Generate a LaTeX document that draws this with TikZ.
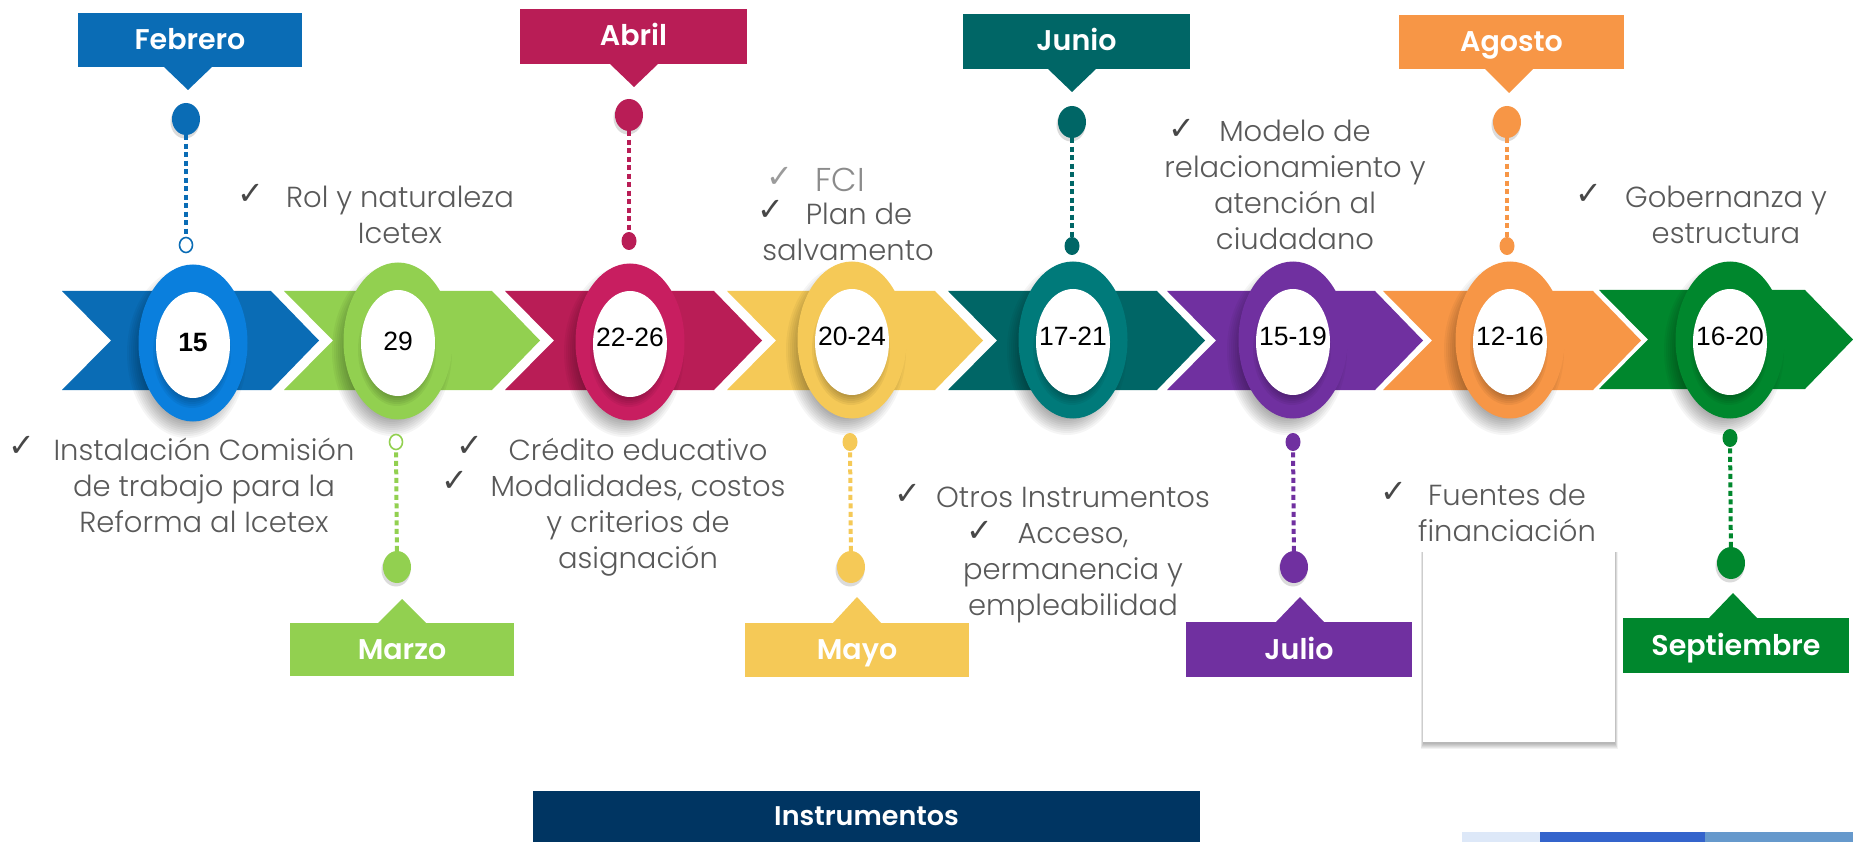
\documentclass[tikz,border=0pt]{standalone}
\usepackage{fontspec}
\setmainfont{Poppins}[UprightFont=* Light,BoldFont=* SemiBold]
\newfontfamily\numfont{Liberation Sans}
\newfontfamily\chkfont{DejaVu Sans}
\usetikzlibrary{shapes.geometric}
\definecolor{cBlue}{HTML}{0A6CB5}\definecolor{cBlueB}{HTML}{0A7FDD}
\definecolor{cGreen}{HTML}{92D050}
\definecolor{cMag}{HTML}{B91D56}\definecolor{cMagB}{HTML}{C81E60}
\definecolor{cYel}{HTML}{F5C957}
\definecolor{cTeal}{HTML}{006666}\definecolor{cTealB}{HTML}{007A7A}
\definecolor{cPur}{HTML}{7030A0}
\definecolor{cOra}{HTML}{F79646}
\definecolor{cDG}{HTML}{00872D}
\definecolor{cNavy}{HTML}{003562}
\definecolor{cText}{HTML}{595959}
\definecolor{cBarA}{HTML}{DDE8F8}\definecolor{cBarB}{HTML}{3464CC}\definecolor{cBarC}{HTML}{6699CC}
\tikzset{
 x=1pt,y=-1pt,
 stagering/.style={ellipse,inner sep=0pt,minimum width=109pt,minimum height=157pt},
 stagecore/.style={ellipse,inner sep=0pt,fill=white,minimum width=74pt,minimum height=106pt},
 stagenum/.style={inner sep=0pt,text=black,font=\numfont\fontsize{26.5}{26.5}\selectfont},
 monthbox/.style={text=white,font=\bfseries\fontsize{28.5}{28.5}\selectfont,inner sep=0pt,text height=19pt,text depth=0pt},
 bigdot/.style={ellipse,inner sep=0pt,minimum width=28pt,minimum height=32pt},
 smalldot/.style={ellipse,inner sep=0pt,minimum width=15pt,minimum height=18pt},
 ringdot/.style={ellipse,inner sep=0pt,minimum width=13pt,minimum height=15pt,fill=white,line width=1.6pt},
 dotline/.style={line width=4pt,dash pattern=on 5pt off 3.5pt},
 note/.style={text=cText,align=center,inner sep=0pt,font=\fontsize{29}{36}\selectfont},
 tick/.style={text=cText!80!black,inner sep=0pt,font=\chkfont\fontsize{32}{32}\selectfont},
}
\newcommand{\chev}[4]{% left, tip, color, offset
 \fill[#3] (#1,291+#4) -- (#2-48,291+#4) -- (#2,340.5+#4) -- (#2-48,390+#4) -- (#1,390+#4) -- (#1+49,340.5+#4) -- cycle;}
\newcommand{\softell}[8]{% cx cy rx ry dx dy steps opacity
 \foreach \k in {0,...,#7}{\fill[black,opacity=#8] (#1+#5,#2+#6) ellipse [x radius={#3+#7-2*\k},y radius={#4+#7-2*\k}];}}
\newcommand{\stage}[6]{% name cx cy ringcolor text textdy
 \softell{#2}{#3}{50}{75}{-6}{10}{10}{0.04}
 \node[stagering,fill=#4] (r#1) at (#2,#3) {};
 \softell{#2}{#3+2}{33}{50}{-1}{7}{6}{0.05}
 \node[stagecore] (c#1) at (#2,#3+2) {};
 \node[stagenum] (l#1) at (#2,#3+#6) {#5};}
\newcommand{\callout}[9]{% name x1 y1 x2 y2 tipx tipy color text
 \pgfmathsetmacro{\basey}{(#7<#3)?#3:#5}
 \fill[#8] (#2,#3) rectangle (#4,#5);
 \fill[#8] (#6-24,\basey) -- (#6,#7) -- (#6+24,\basey) -- cycle;
 \node[monthbox] (#1) at ({(#2+#4)/2},{(#3+#5)/2}) {#9};}
\begin{document}
\begin{tikzpicture}
\useasboundingbox (0,0) rectangle (1853,842);
\fill[white] (0,0) rectangle (1853,842);
% chevrons
\chev{62}{319}{cBlue}{0}
\chev{284}{540}{cGreen}{0}
\chev{505}{762}{cMag}{0}
\chev{727}{983}{cYel}{0}
\chev{948}{1205}{cTeal}{0}
\chev{1167}{1423}{cPur}{0}
\chev{1383}{1641}{cOra}{0}
\chev{1599}{1853}{cDG}{-1}
% stages
\stage{a}{193}{343}{cBlueB}{\bfseries 15}{0}
\stage{b}{398}{341}{cGreen}{29}{0}
\stage{c}{630}{342}{cMagB}{22-26}{-5}
\stage{d}{852}{340}{cYel}{20-24}{-4}
\stage{e}{1073}{340}{cTealB}{17-21}{-4}
\stage{f}{1293}{340}{cPur}{15-19}{-4}
\stage{g}{1510}{340}{cOra}{12-16}{-4}
\stage{h}{1730}{340}{cDG}{16-20}{-4}
% callouts
\callout{febrero}{78}{13}{302}{67}{188}{90}{cBlue}{Febrero}
\callout{abril}{520}{9}{747}{64}{634}{87}{cMag}{Abril}
\callout{junio}{963}{14}{1190}{69}{1072}{92}{cTeal}{Junio}
\callout{agosto}{1399}{15}{1624}{69}{1509}{93}{cOra}{Agosto}
\callout{marzo}{290}{623}{514}{676}{402}{599}{cGreen}{Marzo}
\callout{mayo}{745}{623}{969}{677}{857}{597}{cYel}{Mayo}
\callout{julio}{1186}{622}{1412}{677}{1300}{597}{cPur}{Julio}
\callout{septiembre}{1623}{618}{1849}{673}{1733}{593}{cDG}{Septiembre}
% pins
\foreach \nm/\bx/\by/\sx/\sy/\col in {a/186/119/186/245/cBlue,b/397/567/396/442/cGreen,c/629/115/629/241/cMag,d/851/567/850/442/cYel,e/1072/122/1072/246/cTeal,f/1294/567/1293/442/cPur,g/1507/122/1507/246/cOra,h/1731/563/1730/438/cDG}{
 \fill[black,opacity=.14] (\bx-1,\by+3) ellipse [x radius=14.5,y radius=16.5];
 \node[bigdot,fill=\col] (big\nm) at (\bx,\by) {};
 \coordinate (small\nm) at (\sx,\sy);
 \draw[\col,dotline] (big\nm) -- (small\nm);
}
\node[ringdot,draw=cBlue] (ringa) at (smalla) {};
\node[ringdot,draw=cGreen] (ringb) at (smallb) {};
\node[smalldot,fill=cMag] (dotc) at (smallc) {};
\node[smalldot,fill=cYel] (dotd) at (smalld) {};
\node[smalldot,fill=cTeal] (dote) at (smalle) {};
\node[smalldot,fill=cPur] (dotf) at (smallf) {};
\node[smalldot,fill=cOra] (dotg) at (smallg) {};
\node[smalldot,fill=cDG] (doth) at (smallh) {};
% notes
\node[note] (n1) at (204,485) {Instalación Comisión\\de trabajo para la\\Reforma al Icetex};
\node[tick] (t1) at (22,446) {✓};
\node[note] (n2) at (400,215) {Rol y naturaleza\\Icetex};
\node[tick] (t2) at (251,194) {✓};
\node[note] (n3) at (638,507) {Crédito educativo\\Modalidades, costos\\y criterios de\\asignación};
\node[tick] (t3a) at (470,446) {✓};
\node[tick] (t3b) at (455,481) {✓};
\node[note,text=cText!70,font=\fontsize{33}{36}\selectfont] (n4a) at (840,180) {FCI};
\node[tick,text=cText!60] (t4a) at (780,177) {✓};
\node[note] (n4b) at (848,232) {\hspace*{22pt}Plan de\\salvamento};
\node[tick] (t4b) at (771,210) {✓};
\node[note] (n5) at (1073,555) {Otros Instrumentos\\Acceso,\\permanencia y\\empleabilidad};
\node[tick] (t5a) at (908,494) {✓};
\node[tick] (t5b) at (980,531) {✓};
\node[note] (n6) at (1295,185) {Modelo de\\relacionamiento y\\atención al\\ciudadano};
\node[tick] (t6) at (1182,129) {✓};
\node[note] (n7) at (1507,513) {Fuentes de\\financiación};
\node[tick] (t7) at (1394,492) {✓};
\node[note] (n8) at (1726,215) {Gobernanza y\\estructura};
\node[tick] (t8) at (1589,194) {✓};
% blank white box with shadow
\foreach \k in {0,...,5}{\fill[black,opacity=0.05] (1423-\k/2,552) rectangle (1615+\k/2,744+\k);}
\node[fill=white,inner sep=0pt,minimum width=192pt,minimum height=192pt] (blank) at (1519,646) {};
% bottom bar
\node[fill=cNavy,inner sep=0pt,minimum width=667pt,minimum height=51pt,text=white,font=\bfseries\fontsize{27}{27}\selectfont] (instr) at (866.5,816.5) {Instrumentos};
\fill[cBarA] (1461.5,832) rectangle (1539.5,842);
\fill[cBarB] (1539.5,832) rectangle (1704.6,842);
\fill[cBarC] (1704.6,832) rectangle (1853,842);
\end{tikzpicture}
\end{document}
